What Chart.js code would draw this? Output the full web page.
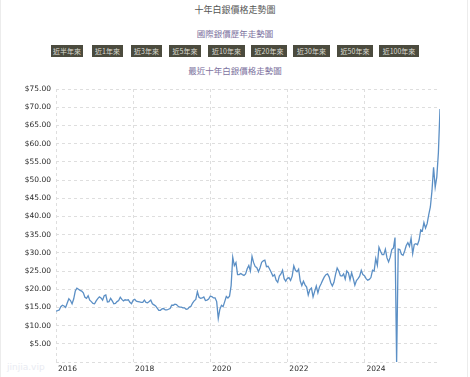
<!DOCTYPE html>
<html lang="zh-Hant">
<head>
<meta charset="utf-8">
<title>十年白銀價格走勢圖</title>
<script src="https://cdn.jsdelivr.net/npm/chart.js@4.4.1/dist/chart.umd.min.js"></script>
<style>
  html, body { margin: 0; padding: 0; background: #fff; }
  body { width: 470px; height: 377px; position: relative; overflow: hidden; font-family: "Noto Sans CJK TC", sans-serif; }
  .frame { position: absolute; left: 0; top: 0; width: 466px; height: 377px; border-left: 1px solid #ececec; border-right: 1px solid #ececec; }
  .t { position: absolute; left: 0; width: 470px; text-align: center; white-space: nowrap; line-height: 1; }
  #title { top: 5px; font-size: 9px; color: #555; }
  #sub { top: 29px; font-size: 8.5px; color: #7d72a0; }
  #chartTitle { top: 66px; font-size: 8.5px; color: #7d72a0; }
  .btn { position: absolute; top: 45px; height: 12px; background: #4b4b3e; color: #dcdcd2; font-size: 7px; line-height: 12px; text-align: center; white-space: nowrap; }
  #silverChart { position: absolute; left: 0; top: 0; }
  #mark { position: absolute; left: 7px; top: 362px; font-size: 9px; color: #e9ebf2; font-family: "DejaVu Sans", sans-serif; }
</style>
</head>
<body>
<div class="frame"></div>
<div class="t" id="title">十年白銀價格走勢圖</div>
<div class="t" id="sub">國際銀價歷年走勢圖</div>
<div id="buttons"></div>
<div class="t" id="chartTitle">最近十年白銀價格走勢圖</div>
<div id="mark">jinjia.vip</div>
<canvas id="silverChart" width="470" height="377"></canvas>
<script>
// range buttons
const buttonLabels = ["近半年來", "近1年來", "近3年來", "近5年來", "近10年來", "近20年來", "近30年來", "近50年來", "近100年來"];
const buttonLeft = [51, 92, 131, 169, 208, 251, 293, 337, 379];
const buttonWidth = [32, 31, 31, 32, 37, 36, 37, 36, 40];

// silver price, USD/oz, read on the 1st and 15th of each month
const years = [2016, 2017, 2018, 2019, 2020, 2021, 2022, 2023, 2024, 2025];
const prices2016 = [14.0, 14.1, 14.3, 15.2, 15.6, 15.4, 15.0, 16.2, 17.4, 16.9, 16.0, 17.3, 19.5, 20.3, 20.0, 19.7, 19.5, 19.0, 17.8, 17.5, 18.2, 17.0, 16.6, 16.1];
const prices2017 = [16.0, 16.8, 17.4, 17.9, 17.6, 17.0, 18.2, 18.4, 16.5, 16.6, 17.5, 16.8, 16.0, 16.1, 16.6, 16.9, 17.8, 17.2, 16.8, 17.1, 17.0, 17.1, 16.4, 16.0];
const prices2018 = [17.0, 17.2, 16.7, 16.6, 16.5, 16.4, 16.4, 17.0, 16.4, 16.3, 16.6, 17.0, 16.0, 15.7, 15.4, 14.8, 14.2, 14.2, 14.6, 14.7, 14.3, 14.3, 14.5, 14.7];
const prices2019 = [15.6, 15.6, 15.9, 15.8, 15.3, 15.1, 15.1, 14.9, 14.9, 14.5, 14.6, 15.1, 15.3, 16.2, 16.8, 17.2, 19.3, 17.8, 17.5, 17.6, 17.9, 16.9, 17.0, 17.3];
const prices2020 = [18.1, 18.0, 17.6, 17.6, 16.6, 12.0, 14.5, 15.6, 15.2, 16.6, 18.0, 17.6, 18.1, 21.0, 28.8, 26.5, 27.3, 24.0, 24.0, 24.3, 24.0, 23.8, 24.2, 25.6];
const prices2021 = [26.5, 25.0, 29.0, 27.3, 26.2, 25.9, 24.8, 25.9, 27.4, 27.8, 28.0, 26.2, 26.3, 25.5, 24.6, 23.6, 24.0, 22.5, 21.9, 23.6, 24.2, 25.2, 22.9, 22.2];
const prices2022 = [23.0, 23.2, 22.4, 23.6, 26.4, 25.2, 24.8, 25.5, 22.3, 21.0, 22.2, 21.2, 20.6, 18.4, 19.9, 20.3, 17.9, 19.4, 20.9, 19.0, 20.6, 21.5, 22.5, 23.4];
const prices2023 = [24.0, 24.2, 23.4, 21.8, 20.9, 21.9, 24.1, 25.8, 25.0, 23.7, 23.6, 24.2, 22.8, 25.0, 24.5, 22.6, 24.5, 23.0, 21.1, 22.4, 22.9, 23.6, 25.2, 24.0];
const prices2024 = [23.7, 22.9, 22.5, 22.7, 23.2, 25.2, 25.0, 28.4, 26.6, 31.5, 30.4, 29.5, 29.5, 31.0, 28.6, 27.5, 28.8, 30.9, 31.3, 34.2, 0, 31.0, 30.9, 29.6];
const prices2025 = [29.3, 30.5, 32.0, 32.8, 31.8, 34.0, 29.8, 32.3, 32.5, 32.2, 33.5, 36.3, 36.0, 38.3, 36.8, 38.0, 40.5, 42.6, 47.0, 53.5, 48.0, 50.8, 57.5, 69.5];
const priceRows = [prices2016, prices2017, prices2018, prices2019, prices2020, prices2021, prices2022, prices2023, prices2024, prices2025];

// axis ticks
const yMin = 0, yMax = 75, yStep = 5;
const xStep = 2;

const btnBox = document.getElementById("buttons");
buttonLabels.forEach((label, i) => {
  const b = document.createElement("div");
  b.className = "btn";
  b.style.left = buttonLeft[i] + "px";
  b.style.width = buttonWidth[i] + "px";
  b.textContent = label;
  btnBox.appendChild(b);
});

const points = [];
years.forEach((yr, r) => {
  priceRows[r].forEach((v, i) => points.push({ x: yr + i / 24, y: v }));
});
const lastX = points[points.length - 1].x;

const tickFont = { family: "DejaVu Sans", size: 7.5 };
const gridColor = "#dedede";

new Chart(document.getElementById("silverChart"), {
  type: "line",
  data: {
    datasets: [{
      data: points,
      borderColor: "#5b8fc5",
      borderWidth: 1.3,
      pointRadius: 0,
      tension: 0,
      fill: false,
    }],
  },
  options: {
    responsive: false,
    animation: false,
    layout: { padding: { top: 89, right: 30, bottom: 0, left: 0 } },
    plugins: { legend: { display: false }, tooltip: { enabled: false } },
    scales: {
      x: {
        type: "linear",
        min: years[0],
        max: lastX,
        grid: { color: gridColor, drawTicks: false },
        border: { display: false, dash: [3, 3] },
        ticks: {
          stepSize: xStep,
          includeBounds: false,
          align: "start",
          labelOffset: 2,
          padding: 4,
          maxRotation: 0,
          autoSkip: false,
          color: "#2a2a2a",
          font: { family: "DejaVu Sans", size: 7.5, lineHeight: 0.93 },
          callback: (v) => String(v),
        },
      },
      y: {
        min: yMin,
        max: yMax,
        afterFit: (s) => { s.width = 56; },
        grid: { color: gridColor, drawTicks: false },
        border: { display: false, dash: [3, 3] },
        ticks: {
          stepSize: yStep,
          padding: 5,
          color: "#2a2a2a",
          font: tickFont,
          callback: (v) => (v === 0 ? "" : "$" + v.toFixed(2)),
        },
      },
    },
  },
});
</script>
</body>
</html>
